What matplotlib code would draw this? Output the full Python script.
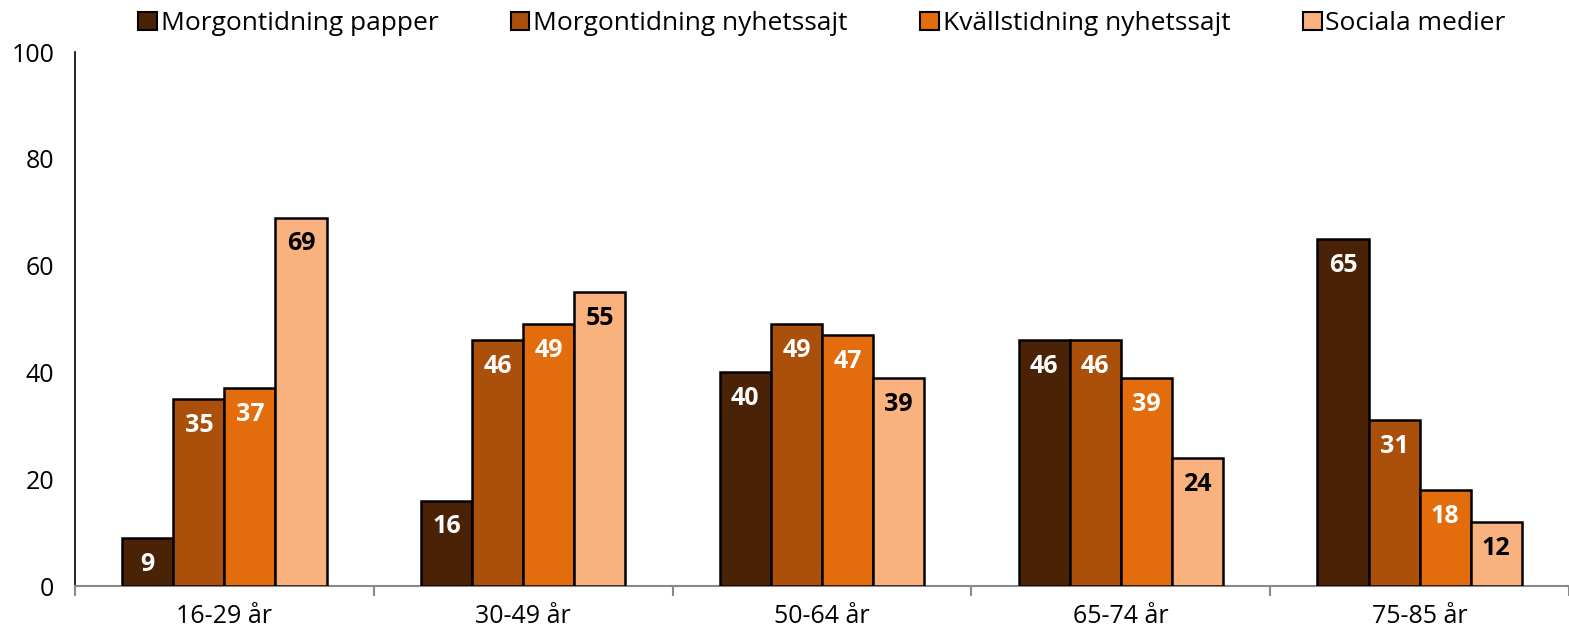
import matplotlib
matplotlib.use("Agg")
import matplotlib.pyplot as plt
from matplotlib.patches import Patch
import numpy as np

categories = ["16-29 år", "30-49 år", "50-64 år", "65-74 år", "75-85 år"]
series_names = ["Morgontidning papper", "Morgontidning nyhetssajt",
                "Kvällstidning nyhetssajt", "Sociala medier"]
morgon_papper = [9, 16, 40, 46, 65]
morgon_sajt = [35, 46, 49, 46, 31]
kvall_sajt = [37, 49, 47, 39, 18]
sociala = [69, 55, 39, 24, 12]
series_values = [morgon_papper, morgon_sajt, kvall_sajt, sociala]
colors = ["#4A2306", "#AB500A", "#E36C0C", "#F9B17D"]
label_colors = ["white", "white", "white", "black"]

plt.rcParams['font.family'] = ['Open Sans', 'DejaVu Sans']

fig = plt.figure(figsize=(15.69, 6.31), dpi=100)
ax = fig.add_axes([75/1569, 1-586/631, 1-75/1569, (586-52)/631])

x = np.arange(len(categories))
w = 0.171
for i, (vals, c, lc) in enumerate(zip(series_values, colors, label_colors)):
    pos = x + (i - 1.5) * w
    bars = ax.bar(pos, vals, width=w, color=c, edgecolor="black", linewidth=1.8, zorder=3)
    for b, v in zip(bars, vals):
        ax.annotate(f"{v}", (b.get_x() + b.get_width()/2, v), xytext=(0, -19),
                    textcoords="offset points", ha="center", va="center",
                    color=lc, fontsize=18, fontweight="bold", zorder=4)

ax.set_xlim(-0.5, 4.5)
ax.set_ylim(0, 100)
ax.set_yticks([0, 20, 40, 60, 80, 100])
ax.tick_params(axis="y", length=0, labelsize=18, pad=15)
ax.set_xticks(x)
ax.set_xticklabels(categories, fontsize=18)
ax.tick_params(axis="x", length=0, pad=13)
ax.set_xticks(np.arange(-0.5, 5.0, 1.0), minor=True)
ax.tick_params(axis="x", which="minor", length=7, color="#898989", width=1.5)

for s in ["top", "right"]:
    ax.spines[s].set_visible(False)
ax.spines["left"].set_color("black")
ax.spines["left"].set_linewidth(1.2)
ax.spines["bottom"].set_color("#898989")
ax.spines["bottom"].set_linewidth(1.5)

handles = [Patch(facecolor=c, edgecolor="black", linewidth=1.5) for c in colors]
ax.legend(handles, series_names, loc="lower center", bbox_to_anchor=(0.5, 1.0),
          ncol=4, frameon=False, fontsize=19, handlelength=0.7, handleheight=0.7,
          handletextpad=0.15, columnspacing=2.75, borderaxespad=0.2)

fig.savefig("out.png", dpi=100)
